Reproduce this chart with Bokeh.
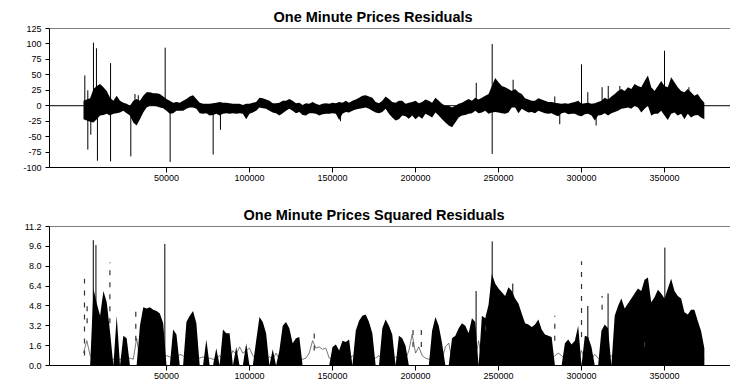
import numpy as np
from bokeh.plotting import figure
from bokeh.layouts import column
from bokeh.models import Range1d, FixedTicker, Span, Title, PrintfTickFormatter
from bokeh.embed import file_html
from bokeh.resources import INLINE

FONT = "Liberation Sans"

# ---- One Minute Prices Residuals: envelope of the residual series (sampled every 2000 minutes)
res_t_k = list(range(0, 376, 2))  # sample positions, thousands of minutes
res_hi = [8, 10, 12, 27, 32, 35, 30, 24, 13, 8, 16, 8, 5, 3, 0, 8, 11, 8, 16, 22,
          22, 20, 20, 19, 15, 11, 8, 5, 6, 5, 8, 11, 15, 17, 11, 5, 3, 3, 3, 4,
          5, 6, 5, 5, 4, 3, 3, 3, 1, 3, 3, 5, 6, 13, 12, 10, 8, 4, 4, 5,
          8, 8, 11, 8, 4, 5, 1, 4, 3, 6, 3, 1, 3, 4, 3, 5, 4, 6, 5, 8,
          5, 8, 10, 13, 16, 17, 15, 13, 6, 4, 8, 15, 11, 6, 5, 8, 8, 3, 5, 6,
          8, 4, 6, 10, 8, 5, 13, 8, 3, 0, 0, -3, 0, 3, 5, 8, 11, 8, 13, 10,
          13, 16, 19, 32, 45, 38, 32, 30, 27, 24, 27, 22, 19, 12, 10, 8, 8, 12, 10, 8,
          6, 6, 5, 4, 3, 4, 3, 5, 6, 8, 3, 4, 5, 3, 4, 6, 8, 13, 10, 15,
          19, 24, 27, 24, 30, 27, 35, 32, 30, 40, 49, 30, 24, 32, 40, 32, 30, 46, 38, 30,
          24, 22, 27, 22, 16, 19, 11, 5]
res_lo = [-22, -24, -26, -27, -22, -16, -15, -13, -16, -13, -12, -11, -8, -12, -16, -27, -32, -22, -11, -3,
          0, 0, -1, -3, -4, -8, -13, -12, -8, -8, -8, -5, -3, -3, -5, -12, -13, -12, -16, -15,
          -13, -16, -13, -12, -13, -12, -13, -12, -13, -22, -13, -11, -8, -3, -4, -5, -8, -11, -12, -16,
          -12, -8, -5, -8, -12, -10, -15, -16, -12, -12, -13, -16, -14, -13, -13, -12, -13, -23, -13, -10,
          -11, -8, -6, -5, -4, -3, -5, -8, -11, -12, -10, -5, -13, -19, -24, -22, -16, -17, -21, -16,
          -22, -17, -21, -13, -16, -19, -11, -16, -22, -27, -32, -35, -27, -19, -16, -15, -13, -12, -8, -12,
          -11, -8, -13, -11, -10, -11, -12, -13, -11, -3, -3, -12, -5, -8, -11, -10, -12, -8, -10, -12,
          -13, -12, -15, -17, -12, -11, -14, -13, -13, -16, -17, -14, -13, -16, -24, -16, -15, -12, -16, -12,
          -10, -8, -5, -4, -3, -5, 0, -3, -11, -5, 0, -16, -13, -13, -8, -16, -23, -13, -11, -16,
          -13, -22, -13, -19, -16, -15, -19, -22]

# isolated large residuals (minute index, value)
res_spike_t = [800, 2600, 2600, 4400, 6000, 7800, 8400, 16300, 16300, 28500, 31000, 33000,
               49200, 52200, 78100, 82500, 154800, 236600, 246200, 246200, 258800, 283900,
               286900, 300000, 303800, 308800, 312400, 316100, 323100, 350000, 364700]
res_spike_v = [49, -71, 25, -47, 102, 93, -89, 69, -90, -82, 19, 17,
               94, -91, -79, -39, -25, 37, 100, -78, 42, 15,
               -30, 67, 22, -32, 30, 32, 32, 89, 30]

# ---- One Minute Prices Squared Residuals
sq_hi = [0, 0, 0, 6.2, 5.0, 4.0, 6.0, 5.1, 2.7, 0, 4.0, 0, 2.4, 2.2, 0, 0, 0, 3.2, 4.7, 4.6,
         4.7, 4.5, 4.4, 4.2, 3.4, 0, 0, 2.9, 2.5, 0, 0, 3.5, 4.0, 4.4, 3.4, 0, 0, 2.1, 0, 0,
         1.4, 0, 2.9, 2.6, 2.6, 0, 1.5, 0, 0, 1.8, 0, 0, 2.0, 3.9, 3.5, 2.6, 0, 1.3, 0, 1.2,
         3.2, 3.5, 3.0, 1.8, 2.2, 2.3, 0, 0, 0, 0, 0, 0, 0, 0, 0, 1.5, 1.7, 1.2, 2.0, 1.9,
         2.1, 0, 2.8, 3.6, 4.0, 4.1, 3.5, 2.6, 0, 0, 3.0, 3.7, 3.2, 2.5, 0, 2.4, 2.2, 1.6, 0, 0,
         0, 0, 0, 0, 0, 2.8, 3.9, 3.2, 1.8, 0, 0, 2.2, 2.4, 3.0, 3.4, 3.2, 2.6, 3.8, 3.5, 0,
         4.0, 3.8, 4.9, 7.4, 6.6, 6.2, 5.9, 5.6, 6.3, 6.0, 5.4, 5.0, 4.2, 3.4, 3.3, 3.1, 3.3, 3.7, 2.9, 2.5,
         2.4, 2.3, 0, 0, 0, 1.8, 2.1, 1.7, 2.0, 3.2, 0, 2.4, 2.3, 1.5, 0, 0, 2.8, 3.3, 3.0, 0,
         4.0, 4.8, 5.4, 4.6, 5.0, 5.4, 5.8, 6.2, 6.0, 6.9, 7.1, 5.1, 5.5, 6.1, 5.8, 5.4, 6.2, 7.0, 6.0, 5.6,
         5.4, 4.3, 4.1, 4.5, 4.5, 3.6, 2.8, 1.4]
sq_base = [1.0, 2.0, 0.8, 0.5, 0.5, 0.5, 0.5, 0.5, 0.5, 0.5, 0.5, 0.5, 0.5, 0.5, 0.6, 0.5, 2.2, 0.5, 0.5, 0.5,
           0.5, 0.5, 0.5, 0.5, 0.5, 0.8, 0.7, 0.5, 0.5, 0.9, 0.8, 0.5, 0.5, 0.5, 0.5, 0.6, 0.7, 0.5, 0.6, 0.5,
           0.5, 0.8, 0.5, 0.5, 0.5, 1.2, 0.9, 1.5, 1.0, 1.2, 1.4, 0.8, 0.5, 0.5, 0.5, 0.5, 0.7, 0.5, 1.0, 0.5,
           0.5, 0.5, 0.5, 0.5, 0.5, 0.5, 0.5, 0.6, 1.0, 2.0, 1.4, 1.5, 1.3, 1.4, 0.6, 0.5, 0.5, 0.5, 0.5, 0.5,
           0.5, 0.8, 0.5, 0.5, 0.5, 0.5, 0.5, 0.5, 0.6, 0.8, 0.5, 0.5, 0.5, 0.5, 0.7, 0.5, 0.5, 0.5, 1.2, 2.5,
           1.0, 1.5, 0.8, 0.6, 0.5, 0.5, 0.5, 0.5, 0.5, 1.5, 1.8, 0.5, 0.5, 0.5, 0.5, 0.5, 0.5, 0.5, 0.5, 2.0,
           0.5, 0.5, 0.5, 0.5, 0.5, 0.5, 0.5, 0.5, 0.5, 0.5, 0.5, 0.5, 0.5, 0.5, 0.5, 0.5, 0.5, 0.5, 0.5, 0.5,
           0.5, 0.5, 0.8, 1.0, 0.8, 0.5, 0.5, 0.5, 0.5, 0.5, 1.2, 0.5, 0.5, 0.5, 0.9, 0.6, 0.5, 0.5, 0.5, 0.8,
           0.5, 0.5, 0.5, 0.5, 0.5, 0.5, 0.5, 0.5, 0.5, 0.5, 0.5, 0.5, 0.5, 0.5, 0.5, 0.5, 0.5, 0.5, 0.5, 0.5,
           0.5, 0.5, 0.5, 0.5, 0.5, 0.5, 0.5, 0.5]
sq_spike_t = [5900, 7500, 49000, 236500, 246200, 258600, 303800, 316000, 350200]
sq_spike_v = [10.1, 9.7, 9.8, 6.0, 10.0, 6.6, 4.8, 5.8, 9.5]
# sparse stretches drawn as broken vertical strokes
sq_dash_t = [600, 2200, 15900, 31500, 139000, 198500, 203500, 242200, 283900, 300000, 312400, 338000]
sq_dash_lo = [0.8, 3.4, 3.4, 2.0, 1.2, 1.5, 1.5, 2.8, 2.0, 2.3, 4.5, 1.5]
sq_dash_hi = [7.0, 5.0, 8.3, 4.4, 2.6, 3.4, 3.2, 3.8, 4.0, 8.4, 5.6, 2.3]

x_ticks = [50000, 100000, 150000, 200000, 250000, 300000, 350000]
res_ticks = [-100, -75, -50, -25, 0, 25, 50, 75, 100, 125]
sq_ticks = [0.0, 1.6, 3.2, 4.8, 6.4, 8.0, 9.6, 11.2]

res_t = np.array(res_t_k) * 1000


def panel(height, y0, y1, yticks, yfmt, title, title_offset, top, bottom):
    p = figure(width=730, height=height, x_range=Range1d(-20480, 389750),
               y_range=Range1d(y0, y1), output_backend="svg", toolbar_location=None,
               min_border_left=49, min_border_right=0, min_border_top=top,
               min_border_bottom=bottom)
    p.title = Title(text=title, align="left", offset=title_offset, text_font=FONT,
                    text_font_size="14.5px", text_font_style="bold", text_color="black",
                    standoff=8)
    p.outline_line_color = None
    p.background_fill_color = "white"
    p.border_fill_color = "white"
    p.xgrid.visible = False
    p.ygrid.visible = False
    for ax in (p.xaxis[0], p.yaxis[0]):
        ax.axis_line_color = "black"
        ax.major_tick_line_color = "black"
        ax.minor_tick_line_color = None
        ax.major_label_text_font = FONT
        ax.major_label_text_font_size = "9px"
        ax.major_label_text_color = "black"
        ax.major_tick_in = 0
    p.xaxis[0].ticker = FixedTicker(ticks=x_ticks)
    p.xaxis[0].formatter = PrintfTickFormatter(format="%d")
    p.xaxis[0].major_tick_out = 5
    p.xaxis[0].major_label_standoff = 2
    p.yaxis[0].ticker = FixedTicker(ticks=yticks)
    p.yaxis[0].formatter = PrintfTickFormatter(format=yfmt)
    p.yaxis[0].major_tick_out = 4
    p.yaxis[0].major_label_standoff = 4
    p.add_layout(Span(location=y1, dimension="width", line_color="black", line_width=1))
    return p


p1 = panel(190, -100, 125, res_ticks, "%d", "One Minute Prices Residuals", 224, 28, 23)
p1.add_layout(Span(location=0, dimension="width", line_color="black", line_width=1, level="underlay"))
p1.varea(x=res_t, y1=res_lo, y2=res_hi, fill_color="black")
p1.segment(x0=res_spike_t, y0=[0] * len(res_spike_t), x1=res_spike_t, y1=res_spike_v,
           line_color="black", line_width=1)

p2 = panel(191, 0, 11.2, sq_ticks, "%.1f", "One Minute Prices Squared Residuals", 194, 36, 16)
p2.line(x=res_t, y=sq_base, line_color="#555555", line_width=0.8)
p2.varea(x=res_t, y1=[0] * len(sq_hi), y2=sq_hi, fill_color="black")
p2.segment(x0=sq_spike_t, y0=[0] * len(sq_spike_t), x1=sq_spike_t, y1=sq_spike_v,
           line_color="black", line_width=1)
p2.segment(x0=sq_dash_t, y0=sq_dash_lo, x1=sq_dash_t, y1=sq_dash_hi,
           line_color="#333333", line_width=1.2, line_dash="5 7")

layout = column(p1, p2, spacing=0)
open("out.html", "w").write(file_html(layout, INLINE))
